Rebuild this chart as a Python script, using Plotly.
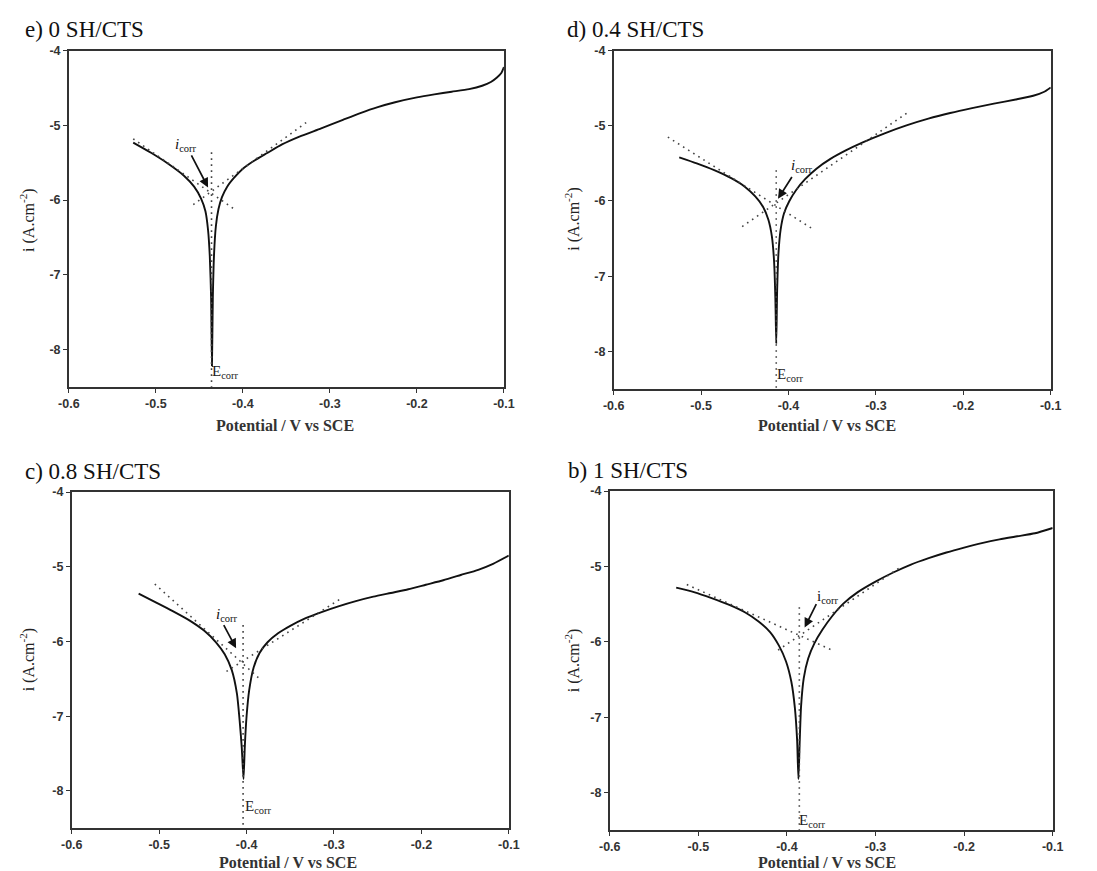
import plotly.graph_objects as go

W, H = 1097, 871

# ---------------- data ----------------
titles = ["e) 0 SH/CTS", "d) 0.4 SH/CTS", "c) 0.8 SH/CTS", "b) 1 SH/CTS"]

e_x = [-0.526, -0.505, -0.485, -0.468, -0.456, -0.448, -0.443, -0.440, -0.438, -0.4365, -0.4355,
       -0.4345, -0.433, -0.431, -0.428, -0.424, -0.418, -0.410, -0.400, -0.388, -0.372, -0.355,
       -0.335, -0.31, -0.285, -0.265, -0.245, -0.225, -0.2, -0.18, -0.16, -0.14, -0.125, -0.115,
       -0.108, -0.103, -0.1]
e_y = [-5.23, -5.37, -5.52, -5.67, -5.82, -5.98, -6.15, -6.40, -6.75, -7.3, -8.22,
       -7.3, -6.7, -6.35, -6.12, -5.96, -5.82, -5.70, -5.58, -5.48, -5.37, -5.255,
       -5.15, -5.04, -4.925, -4.835, -4.755, -4.69, -4.625, -4.585, -4.55, -4.515, -4.47, -4.42,
       -4.36, -4.30, -4.22]

d_x = [-0.525, -0.505, -0.485, -0.465, -0.450, -0.438, -0.429, -0.423, -0.419, -0.4165, -0.415, -0.414,
       -0.413, -0.4115, -0.409, -0.405, -0.399, -0.391, -0.381, -0.368, -0.352, -0.335, -0.315,
       -0.29, -0.265, -0.24, -0.215, -0.19, -0.165, -0.14, -0.12, -0.108, -0.1]
d_y = [-5.42, -5.50, -5.59, -5.70, -5.81, -5.94, -6.08, -6.25, -6.47, -6.80, -7.3, -7.9,
       -7.2, -6.7, -6.38, -6.16, -6.0, -5.85, -5.71, -5.57, -5.44, -5.33, -5.22,
       -5.10, -4.995, -4.905, -4.83, -4.765, -4.705, -4.65, -4.60, -4.55, -4.49]

c_x = [-0.5235, -0.505, -0.485, -0.465, -0.448, -0.435, -0.425, -0.417, -0.411, -0.408, -0.4055, -0.4035,
       -0.402, -0.400, -0.397, -0.392, -0.385, -0.376, -0.364, -0.35, -0.333, -0.315, -0.295,
       -0.275, -0.255, -0.235, -0.215, -0.195, -0.175, -0.155, -0.135, -0.118, -0.1]
c_y = [-5.36, -5.47, -5.59, -5.72, -5.86, -6.01, -6.17, -6.38, -6.70, -7.05, -7.42, -7.84,
       -7.4, -7.0, -6.65, -6.35, -6.15, -6.01, -5.89, -5.79, -5.69, -5.61, -5.53,
       -5.46, -5.40, -5.35, -5.30, -5.24, -5.18, -5.11, -5.04, -4.96, -4.85]

b_x = [-0.525, -0.505, -0.485, -0.465, -0.447, -0.432, -0.419, -0.409, -0.401, -0.395, -0.391, -0.3885,
       -0.387, -0.3855, -0.384, -0.381, -0.376, -0.369, -0.36, -0.349, -0.336, -0.32, -0.30, -0.28,
       -0.26, -0.24, -0.22, -0.20, -0.18, -0.16, -0.14, -0.12, -0.1]
b_y = [-5.28, -5.34, -5.42, -5.51, -5.61, -5.73, -5.87, -6.05, -6.26, -6.53, -6.88, -7.3,
       -7.82, -7.3, -6.85, -6.48, -6.22, -6.02, -5.84, -5.66, -5.49, -5.34, -5.20, -5.08,
       -4.975, -4.89, -4.815, -4.75, -4.69, -4.64, -4.60, -4.56, -4.49]

# Tafel extrapolation lines: [x_start, x_end], [y_start, y_end]
cath_x = [[-0.526, -0.410], [-0.538, -0.374], [-0.505, -0.384], [-0.513, -0.349]]
cath_y = [[-5.18, -6.12], [-5.15, -6.36], [-5.23, -6.51], [-5.24, -6.11]]
anod_x = [[-0.457, -0.327], [-0.453, -0.262], [-0.423, -0.290], [-0.410, -0.272]]
anod_y = [[-6.06, -4.96], [-6.34, -4.81], [-6.40, -5.41], [-6.11, -5.01]]
ecorr_x = [-0.436, -0.414, -0.404, -0.386]
ecorr_top = [-5.36, -5.59, -5.78, -5.54]

# icorr arrow: head (x, y) and tail (x, y), label position
arr_head = [(-0.440, -5.83), (-0.412, -5.97), (-0.412, -6.09), (-0.380, -5.81)]
arr_tail = [(-0.460, -5.38), (-0.395, -5.66), (-0.427, -5.76), (-0.366, -5.48)]
icorr_pos = [(-0.465, -5.26), (-0.385, -5.54), (-0.422, -5.64), (-0.354, -5.40)]
icorr_txt = ["<i>i</i><sub>corr</sub>", "<i>i</i><sub>corr</sub>", "<i>i</i><sub>corr</sub>", "i<sub>corr</sub>"]
ecorr_lbl = [(-0.420, -8.30), (-0.398, -8.32), (-0.386, -8.22), (-0.371, -8.37)]

x_ticks = [-0.6, -0.5, -0.4, -0.3, -0.2, -0.1]
x_ticktext = ["-0.6", "-0.5", "-0.4", "-0.3", "-0.2", "-0.1"]
y_ticks = [-8, -7, -6, -5, -4]
y_ticktext = ["-8", "-7", "-6", "-5", "-4"]

curves = [(e_x, e_y), (d_x, d_y), (c_x, c_y), (b_x, b_y)]

# ---------------- layout geometry (pixels) ----------------
boxes = [(59, 503, 44, 383), (615, 1061, 44, 385), (62, 508, 489, 828), (611, 1063, 488, 830)]
title_pos = [(12, 23), (565, 23), (12, 468), (566, 467)]
xtitle_pos = [(280, 422), (833, 422), (283, 862), (833, 862)]
ytitle_pos = [(17, 215), (573, 214), (17, 658), (573, 659)]

SERIF = "Liberation Serif"
SANS = "Liberation Sans"

fig = go.Figure()
annotations = []
for k in range(4):
    xa = "x" if k == 0 else f"x{k+1}"
    ya = "y" if k == 0 else f"y{k+1}"
    cx, cy = curves[k]
    fig.add_trace(go.Scatter(x=cx, y=cy, mode="lines", xaxis=xa, yaxis=ya,
                             line=dict(color="#111", width=1.9, shape="spline", smoothing=0.6),
                             showlegend=False, hoverinfo="skip"))
    dot = dict(color="#444", width=1.6, dash="1.6px,4.4px")
    fig.add_trace(go.Scatter(x=cath_x[k], y=cath_y[k], mode="lines", xaxis=xa, yaxis=ya,
                             line=dot, showlegend=False, hoverinfo="skip"))
    fig.add_trace(go.Scatter(x=anod_x[k], y=anod_y[k], mode="lines", xaxis=xa, yaxis=ya,
                             line=dot, showlegend=False, hoverinfo="skip"))
    fig.add_trace(go.Scatter(x=[ecorr_x[k], ecorr_x[k]], y=[ecorr_top[k], -8.5], mode="lines",
                             xaxis=xa, yaxis=ya, line=dot, showlegend=False, hoverinfo="skip"))

    l, r, t, b = boxes[k]
    axcommon = dict(showline=True, mirror=True, linecolor="#333", linewidth=1.6,
                    ticks="outside", ticklen=4, tickwidth=1.2, tickcolor="#333",
                    showgrid=False, zeroline=False,
                    tickfont=dict(family=SANS, size=12.5, color="#333", weight="bold"))
    fig.layout[f"xaxis{'' if k == 0 else k+1}"] = dict(
        domain=[l / W, r / W], range=[-0.6, -0.1], anchor=ya,
        tickvals=x_ticks, ticktext=x_ticktext, **axcommon)
    fig.layout[f"yaxis{'' if k == 0 else k+1}"] = dict(
        domain=[1 - b / H, 1 - t / H], range=[-8.5, -4], anchor=xa,
        tickvals=y_ticks, ticktext=y_ticktext, **axcommon)

    # arrow
    hx, hy = arr_head[k]
    tx, ty = arr_tail[k]
    annotations.append(dict(x=hx, y=hy, ax=tx, ay=ty, xref=xa, yref=ya, axref=xa, ayref=ya,
                            text="", showarrow=True, arrowhead=2, arrowsize=1.1,
                            arrowwidth=1.7, arrowcolor="#111"))
    ix, iy = icorr_pos[k]
    annotations.append(dict(x=ix, y=iy, xref=xa, yref=ya, text=icorr_txt[k], showarrow=False,
                            font=dict(family=SERIF, size=15, color="#111")))
    ex, ey = ecorr_lbl[k]
    annotations.append(dict(x=ex, y=ey, xref=xa, yref=ya, text="E<sub>corr</sub>", showarrow=False,
                            font=dict(family=SERIF, size=15, color="#222")))

    # panel title
    px, py = title_pos[k]
    annotations.append(dict(x=px / W, y=1 - py / H, xref="paper", yref="paper", xanchor="left",
                            yanchor="middle", text=titles[k], showarrow=False,
                            font=dict(family=SERIF, size=23, color="#111")))
    # axis titles
    qx, qy = xtitle_pos[k]
    annotations.append(dict(x=qx / W, y=1 - qy / H, xref="paper", yref="paper", xanchor="center",
                            yanchor="middle", text="<b>Potential / V vs SCE</b>", showarrow=False,
                            font=dict(family=SERIF, size=16, color="#333")))
    zx, zy = ytitle_pos[k]
    annotations.append(dict(x=zx / W, y=1 - zy / H, xref="paper", yref="paper", xanchor="center",
                            yanchor="middle", text="i (A.cm<sup>-2</sup>)", textangle=-90,
                            showarrow=False, font=dict(family=SERIF, size=16, color="#222")))

fig.update_layout(width=W, height=H, margin=dict(l=0, r=0, t=0, b=0),
                  paper_bgcolor="white", plot_bgcolor="white", annotations=annotations)

fig.write_html("out.html")
